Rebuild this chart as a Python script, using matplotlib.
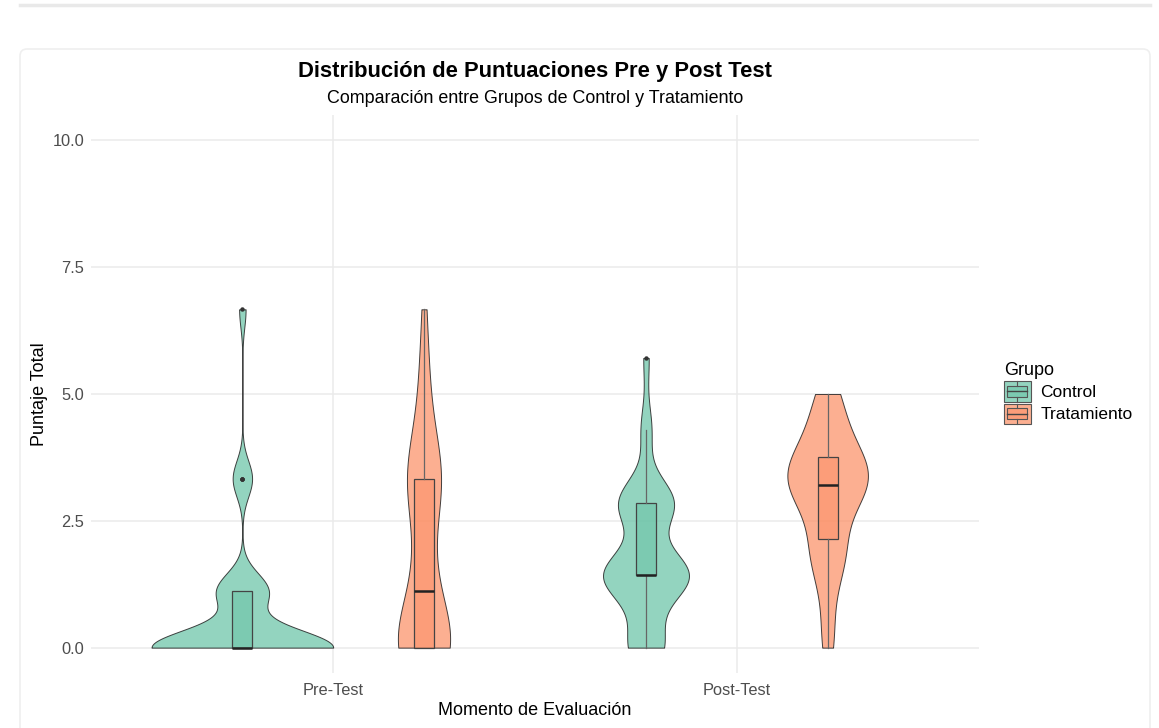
import numpy as np
import matplotlib
matplotlib.use("Agg")
import matplotlib.pyplot as plt
from matplotlib import cbook, mlab
from matplotlib.colors import to_rgba
from matplotlib.patches import FancyBboxPatch, Rectangle
from matplotlib.lines import Line2D
from matplotlib.legend_handler import HandlerBase
from matplotlib.transforms import IdentityTransform

plt.rcParams['font.family'] = ['Liberation Sans', 'DejaVu Sans']

momentos = ["Pre-Test", "Post-Test"]
grupos = ["Control", "Tratamiento"]
colores = {"Control": "#66C2A5", "Tratamiento": "#FC8D62"}
y_ticks = [0.0, 2.5, 5.0, 7.5, 10.0]

# puntajes observados: valor y frecuencia
pre_control_vals = [0.0, 1.11, 3.33, 6.67]
pre_control_n = [28, 8, 3, 1]
pre_trat_vals = [0.0, 1.11, 2.22, 3.33, 4.44, 5.56, 6.67]
pre_trat_n = [17, 5, 3, 10, 3, 2, 1]
post_control_vals = [0.0, 0.71, 1.43, 2.14, 2.86, 4.29, 5.71]
post_control_n = [6, 2, 15, 1, 10, 2, 1]
post_trat = [0.0, 0.5, 1.3, 1.6, 1.8, 1.95, 2.1, 2.2, 2.85, 3.0, 3.05, 3.1, 3.15, 3.2,
             3.3, 3.4, 3.45, 3.5, 3.6, 3.7, 3.8, 3.9, 4.1, 4.4, 4.7, 4.85, 5.0]

datos = {
    ("Pre-Test", "Control"): np.repeat(pre_control_vals, pre_control_n),
    ("Pre-Test", "Tratamiento"): np.repeat(pre_trat_vals, pre_trat_n),
    ("Post-Test", "Control"): np.repeat(post_control_vals, post_control_n),
    ("Post-Test", "Tratamiento"): np.array(post_trat),
}


def kde_nrd0(x, coords):
    # densidad gaussiana con el ancho de banda por defecto de R (nrd0)
    x = np.asarray(x, float)
    sd = x.std(ddof=1)
    q1, q3 = np.percentile(x, [25, 75])
    bw = 0.9 * min(sd, (q3 - q1) / 1.34) * len(x) ** -0.2
    kde = mlab.GaussianKDE(x, bw_method=bw / sd)
    return kde.evaluate(coords)


class ClaveViolin(HandlerBase):
    def create_artists(self, legend, orig_handle, xdescent, ydescent,
                       width, height, fontsize, trans):
        c = orig_handle.get_facecolor()[:3]
        x0, y0 = -xdescent, -ydescent
        fondo = Rectangle((x0, y0), width, height, facecolor=to_rgba(c, 0.7),
                          edgecolor='#555555', lw=0.8, transform=trans)
        caja = Rectangle((x0 + 0.13 * width, y0 + 0.22 * height), 0.74 * width,
                         0.56 * height, facecolor=to_rgba(c, 0.5),
                         edgecolor='#555555', lw=0.8, transform=trans)
        xm = x0 + width / 2
        med = Line2D([x0 + 0.13 * width, x0 + 0.87 * width], [y0 + height / 2] * 2,
                     color='#444444', lw=1.0, transform=trans)
        b1 = Line2D([xm, xm], [y0, y0 + 0.22 * height], color='#555555', lw=0.8, transform=trans)
        b2 = Line2D([xm, xm], [y0 + 0.78 * height, y0 + height], color='#555555', lw=0.8, transform=trans)
        return [fondo, caja, med, b1, b2]


fig = plt.figure(figsize=(11.59, 7.28), dpi=100)
fig.patch.set_facecolor('white')

# tarjeta y linea superior
tarjeta = FancyBboxPatch((20, -30), 1130, 709, boxstyle="round,pad=0,rounding_size=7",
                         facecolor='white', edgecolor='#efefef', lw=1.2,
                         transform=IdentityTransform(), zorder=-5)
fig.add_artist(tarjeta)
fig.add_artist(Line2D([20 / 1159, 1150 / 1159], [1 - 5 / 728] * 2, color='#e9e9e9',
                      lw=2.5, transform=fig.transFigure, zorder=-5))

ax = fig.add_axes([91 / 1159, 1 - 673 / 728, 888 / 1159, 558 / 728])
ax.set_facecolor('none')

desplaz = {"Control": -0.225, "Tratamiento": 0.225}
vstats = {k: cbook.violin_stats(v, kde_nrd0, points=512)[0] for k, v in datos.items()}
pico = max(s['vals'].max() for s in vstats.values())

for (mom, grp), s in vstats.items():
    pos = momentos.index(mom) + 1 + desplaz[grp]
    w = 0.45 * s['vals'].max() / pico
    partes = ax.violin([s], positions=[pos], widths=[w], showmeans=False,
                       showextrema=False, showmedians=False)
    for b in partes['bodies']:
        b.set_alpha(None)
        b.set_facecolor(to_rgba(colores[grp], 0.7))
        b.set_edgecolor(to_rgba('#222222', 0.85))
        b.set_linewidth(0.7)
        b.set_zorder(2)

for (mom, grp), d in datos.items():
    pos = momentos.index(mom) + 1 + desplaz[grp]
    bst = cbook.boxplot_stats(d, whis=1.5)
    ax.bxp(bst, positions=[pos], widths=0.05, patch_artist=True, showcaps=False,
           boxprops=dict(facecolor=to_rgba(colores[grp], 0.5), edgecolor='#444444', lw=0.9),
           whiskerprops=dict(color='#666666', lw=0.9),
           medianprops=dict(color='#222222', lw=1.8, solid_capstyle='butt'),
           flierprops=dict(marker='o', markersize=3.2, markerfacecolor='#333333',
                           markeredgecolor='none'),
           zorder=3, manage_ticks=False)

ax.set_xlim(0.4, 2.6)
ax.set_ylim(-0.5, 10.5)
ax.set_xticks([1, 2])
ax.set_xticklabels(momentos)
ax.set_yticks(y_ticks)
ax.set_yticklabels([f"{t:.1f}" for t in y_ticks])
ax.tick_params(length=0, labelsize=11.8, labelcolor='#4d4d4d')
ax.tick_params(axis='x', pad=7)
ax.tick_params(axis='y', pad=5)
ax.grid(True, color='#ebebeb', lw=1.1)
ax.set_axisbelow(True)
for sp in ax.spines.values():
    sp.set_visible(False)

ax.set_xlabel("Momento de Evaluación", fontsize=13, labelpad=3)
ax.set_ylabel("Puntaje Total", fontsize=13, labelpad=3)

fig.text(535 / 1159, 1 - 72 / 728, "Distribución de Puntuaciones Pre y Post Test",
         ha='center', va='center', fontsize=15.8, fontweight='bold')
fig.text(535 / 1159, 1 - 98.5 / 728, "Comparación entre Grupos de Control y Tratamiento",
         ha='center', va='center', fontsize=12.9)

manijas = [Rectangle((0, 0), 1, 1, facecolor=colores[g]) for g in grupos]
leg = ax.legend(manijas, grupos, title="Grupo", loc='center left',
                bbox_to_anchor=(1004 / 1159, 1 - 393 / 728), bbox_transform=fig.transFigure,
                frameon=False, fontsize=12.5, title_fontsize=13, alignment='left',
                handlelength=1.55, handleheight=1.4, labelspacing=0.12, borderpad=0,
                borderaxespad=0, handletextpad=0.55,
                handler_map={Rectangle: ClaveViolin()})

fig.savefig("out.png", dpi=100)
